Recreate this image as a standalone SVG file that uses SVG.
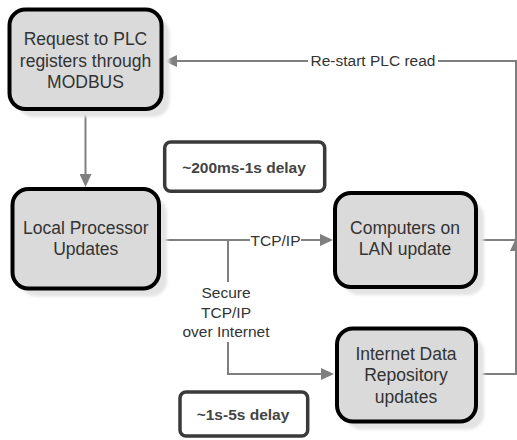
<svg xmlns="http://www.w3.org/2000/svg" width="517" height="440" viewBox="0 0 517 440">
  <style>
    .node { fill: #dadada; stroke: #000; stroke-width: 4; }
    .shadow { fill: #e3e3e3; filter: url(#soft); }
    .ntext { font-family: "Liberation Sans", Arial, sans-serif; font-size: 17.5px; fill: #333; text-anchor: middle; }
    .delay { fill: #fff; stroke: #3a3a3a; stroke-width: 3.5; }
    .dtext { font-family: "Liberation Sans", Arial, sans-serif; font-size: 15.5px; font-weight: bold; fill: #444; text-anchor: middle; }
    .conn { fill: none; stroke: #7f7f7f; stroke-width: 2; stroke-linecap: butt; }
    .ltext { font-family: "Liberation Sans", Arial, sans-serif; font-size: 15.5px; fill: #333; text-anchor: middle; }
    .lbg { fill: #fff; }
  </style>
  <defs>
    <filter id="soft" x="-10%" y="-10%" width="120%" height="120%">
      <feGaussianBlur stdDeviation="1.5"/>
    </filter>
    <marker id="arrow" markerUnits="userSpaceOnUse" markerWidth="13" markerHeight="12" refX="0" refY="6" orient="auto">
      <path d="M0,0 L13,6 L0,12 z" fill="#7f7f7f"/>
    </marker>
  </defs>

  <rect width="517" height="440" fill="#fff"/>

  <!-- connectors -->
  <g id="connectors">
    <path class="conn" d="M85.5,111.5 V174" marker-end="url(#arrow)"/>
    <path class="conn" d="M516,240 V61 H177" marker-end="url(#arrow)"/>
    <path class="conn" d="M161,240 H320" marker-end="url(#arrow)"/>
    <path class="conn" d="M228,240 V282"/>
    <path class="conn" d="M228,342 V374 H321" marker-end="url(#arrow)"/>
    <path class="conn" d="M478,240 H516"/>
    <path class="conn" d="M478,374 H516 V251" marker-end="url(#arrow)"/>

    <rect class="lbg" x="308" y="52" width="130" height="18"/>
    <text class="ltext" x="373" y="66">Re-start PLC read</text>

    <rect class="lbg" x="250" y="232" width="51" height="17"/>
    <text class="ltext" x="275.5" y="246">TCP/IP</text>

    <text class="ltext" x="226" y="298">Secure</text>
    <text class="ltext" x="226" y="317.5">TCP/IP</text>
    <text class="ltext" x="226" y="337">over Internet</text>
  </g>

  <!-- nodes -->
  <g id="plc-request">
    <rect class="shadow" x="17.5" y="17.5" width="152" height="99.5" rx="16"/>
    <rect class="node" x="9.5" y="9.5" width="152" height="99.5" rx="16"/>
    <text class="ntext" x="85.5" y="45">Request to PLC</text>
    <text class="ntext" x="85.5" y="66.5">registers through</text>
    <text class="ntext" x="85.5" y="88">MODBUS</text>
  </g>

  <g id="local-processor">
    <rect class="shadow" x="20.5" y="197" width="146.5" height="99.5" rx="16"/>
    <rect class="node" x="12.5" y="189" width="146.5" height="99.5" rx="16"/>
    <text class="ntext" x="85.75" y="233.5">Local Processor</text>
    <text class="ntext" x="85.75" y="255">Updates</text>
  </g>

  <g id="lan-computers">
    <rect class="shadow" x="343" y="201" width="141" height="94" rx="16"/>
    <rect class="node" x="335" y="193" width="141" height="94" rx="16"/>
    <text class="ntext" x="405" y="233.5">Computers on</text>
    <text class="ntext" x="405" y="255">LAN update</text>
  </g>

  <g id="internet-repository">
    <rect class="shadow" x="345" y="336.5" width="139" height="93" rx="16"/>
    <rect class="node" x="337" y="328.5" width="139" height="93" rx="16"/>
    <text class="ntext" x="406" y="359.5">Internet Data</text>
    <text class="ntext" x="406" y="381">Repository</text>
    <text class="ntext" x="406" y="402.5">updates</text>
  </g>

  <g id="delay-lan">
    <rect class="delay" x="164.7" y="142" width="160" height="49.3" rx="6"/>
    <text class="dtext" x="244" y="172.5">~200ms-1s delay</text>
  </g>

  <g id="delay-internet">
    <rect class="delay" x="180" y="392" width="127.7" height="44" rx="6"/>
    <text class="dtext" x="243" y="419.5">~1s-5s delay</text>
  </g>
</svg>
